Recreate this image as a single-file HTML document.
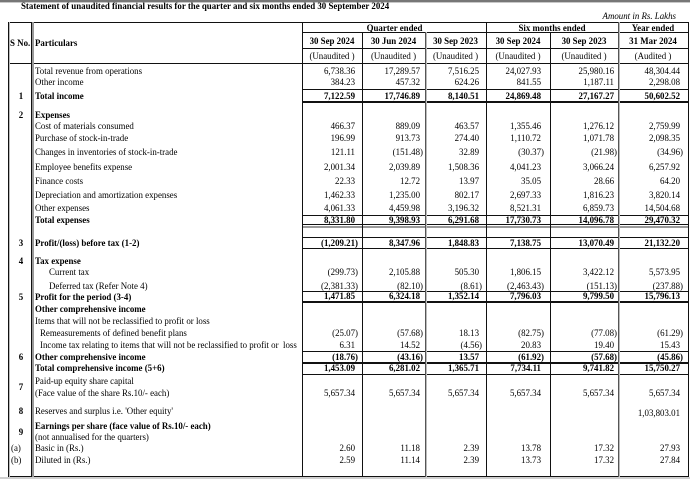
<!DOCTYPE html>
<html><head><meta charset="utf-8"><style>
body{margin:0;background:#fff}
#c{position:relative;width:690px;height:479px;overflow:hidden;background:#fff;font-family:"Liberation Serif","Times New Roman",serif;font-size:8.9px;line-height:11px;color:#000}
.t{position:absolute;white-space:nowrap}
.b{font-weight:bold}
.i{font-style:italic}
.l{position:absolute;background:#111}
.g{position:absolute;background:#9a9a9a}
.n{position:absolute;left:9px;width:24px;text-align:center;white-space:nowrap;font-weight:bold}
.h{position:absolute;text-align:center;white-space:nowrap}
</style></head><body><div id="c">
<div class="g" style="left:0;top:0;width:690px;height:2px;background:#777"></div>
<div class="g" style="left:0;top:2px;width:690px;height:1px;background:#c8c8c8"></div>
<div class="t b" style="left:21px;top:1px">Statement of unaudited financial results for the quarter and six months ended 30 September 2024</div>
<div class="t i" style="right:14px;top:11px">Amount in Rs. Lakhs</div>

<div class="l" style="left:8px;top:22px;width:681px;height:1px"></div>
<div class="l" style="left:302px;top:32px;width:387px;height:1px"></div>
<div class="l" style="left:302px;top:48px;width:387px;height:1px"></div>
<div class="l" style="left:8px;top:63px;width:681px;height:1px"></div>
<div class="l" style="left:302px;top:89px;width:387px;height:1px"></div>
<div class="l" style="left:302px;top:101px;width:387px;height:2px"></div>
<div class="l" style="left:302px;top:215px;width:387px;height:1px"></div>
<div class="l" style="left:302px;top:224px;width:387px;height:1px"></div>
<div class="g" style="left:302px;top:226px;width:387px;height:2px"></div>
<div class="l" style="left:302px;top:237px;width:387px;height:1px"></div>
<div class="l" style="left:302px;top:248px;width:387px;height:1px"></div>
<div class="l" style="left:302px;top:291px;width:387px;height:1px"></div>
<div class="l" style="left:302px;top:301px;width:387px;height:2px"></div>
<div class="l" style="left:302px;top:351px;width:387px;height:1px"></div>
<div class="l" style="left:302px;top:362px;width:387px;height:2px"></div>
<div class="l" style="left:302px;top:374px;width:387px;height:1px"></div>
<div class="l" style="left:8px;top:476px;width:681px;height:1px"></div>
<div class="g" style="left:0;top:477px;width:690px;height:2px;background:#cfcfcf"></div>

<div class="l" style="left:8px;top:22px;width:1px;height:455px"></div>
<div class="g" style="left:9px;top:22px;width:1px;height:455px;background:#bbb"></div>
<div class="l" style="left:31px;top:22px;width:1px;height:455px"></div>
<div class="g" style="left:32px;top:22px;width:2px;height:455px"></div>
<div class="l" style="left:302px;top:22px;width:1px;height:455px"></div>
<div class="l" style="left:362px;top:32px;width:1px;height:445px"></div>
<div class="l" style="left:425px;top:32px;width:1px;height:445px;background:#555"></div>
<div class="g" style="left:426px;top:32px;width:1px;height:445px;background:#bbb"></div>
<div class="l" style="left:486px;top:22px;width:1px;height:455px"></div>
<div class="l" style="left:550px;top:32px;width:1px;height:445px"></div>
<div class="l" style="left:618px;top:22px;width:1px;height:455px;background:#555"></div>
<div class="g" style="left:619px;top:22px;width:1px;height:455px;background:#bbb"></div>
<div class="l" style="left:688px;top:22px;width:1px;height:455px"></div>

<div class="t b" style="left:10px;top:37.5px">S No.</div>
<div class="t b" style="left:35px;top:37.5px">Particulars</div>
<div class="h b" style="left:302px;width:185px;top:22.5px">Quarter ended</div>
<div class="h b" style="left:486px;width:132px;top:22.5px">Six months ended</div>
<div class="h b" style="left:618px;width:70px;top:22.5px">Year ended</div>
<div class="h b" style="left:302px;width:60px;top:36px">30 Sep 2024</div>
<div class="h b" style="left:362px;width:63px;top:36px">30 Jun 2024</div>
<div class="h b" style="left:425px;width:61px;top:36px">30 Sep 2023</div>
<div class="h b" style="left:486px;width:64px;top:36px">30 Sep 2024</div>
<div class="h b" style="left:550px;width:68px;top:36px">30 Sep 2023</div>
<div class="h b" style="left:618px;width:70px;top:36px">31 Mar 2024</div>
<div class="h" style="left:302px;width:60px;top:51px">(Unaudited )</div>
<div class="h" style="left:362px;width:63px;top:51px">(Unaudited )</div>
<div class="h" style="left:425px;width:61px;top:51px">(Unaudited )</div>
<div class="h" style="left:486px;width:64px;top:51px">(Unaudited )</div>
<div class="h" style="left:550px;width:68px;top:51px">(Unaudited )</div>
<div class="h" style="left:618px;width:70px;top:51px">(Audited )</div>

<div class="t" style="left:35px;top:65.5px">Total revenue from operations</div>
<div class="t" style="left:35px;top:77px">Other income</div>
<div class="n" style="top:91px">1</div>
<div class="t b" style="left:35px;top:91px">Total income</div>
<div class="n" style="top:109.5px">2</div>
<div class="t b" style="left:35px;top:109.5px">Expenses</div>
<div class="t" style="left:35px;top:120.5px">Cost of materials consumed</div>
<div class="t" style="left:35px;top:132.5px">Purchase of stock-in-trade</div>
<div class="t" style="left:35px;top:147px">Changes in inventories of stock-in-trade</div>
<div class="t" style="left:35px;top:161.5px">Employee benefits expense</div>
<div class="t" style="left:35px;top:175.5px">Finance costs</div>
<div class="t" style="left:35px;top:189.5px">Depreciation and amortization expenses</div>
<div class="t" style="left:35px;top:203px">Other expenses</div>
<div class="t b" style="left:35px;top:214.5px">Total expenses</div>
<div class="n" style="top:237.5px">3</div>
<div class="t b" style="left:35px;top:237.5px">Profit/(loss) before tax (1-2)</div>
<div class="n" style="top:256px">4</div>
<div class="t b" style="left:35px;top:256px">Tax expense</div>
<div class="t" style="left:49px;top:267px">Current tax</div>
<div class="t" style="left:49px;top:281px">Deferred tax (Refer Note 4)</div>
<div class="n" style="top:291.5px">5</div>
<div class="t b" style="left:35px;top:291.5px">Profit for the period (3-4)</div>
<div class="t b" style="left:35px;top:304px">Other comprehensive income</div>
<div class="t" style="left:35px;top:315.5px">Items that will not be reclassified to profit or loss</div>
<div class="t" style="left:40px;top:327.5px">Remeasurements of defined benefit plans</div>
<div class="t" style="left:40px;top:340px">Income tax relating to items that will not be reclassified to profit or&nbsp; loss</div>
<div class="n" style="top:351.5px">6</div>
<div class="t b" style="left:35px;top:351.5px">Other comprehensive income</div>
<div class="t b" style="left:35px;top:363px">Total comprehensive income (5+6)</div>
<div class="n" style="top:381.5px">7</div>
<div class="t" style="left:35px;top:376px">Paid-up equity share capital</div>
<div class="t" style="left:35px;top:387.5px">(Face value of the share Rs.10/- each)</div>
<div class="n" style="top:406px">8</div>
<div class="t" style="left:35px;top:406px">Reserves and surplus i.e. 'Other equity'</div>
<div class="n" style="top:426.5px">9</div>
<div class="t b" style="left:35px;top:420.5px">Earnings per share (face value of Rs.10/- each)</div>
<div class="t" style="left:35px;top:432px">(not annualised for the quarters)</div>
<div class="t" style="left:11px;top:443px">(a)</div>
<div class="t" style="left:35px;top:443px">Basic in (Rs.)</div>
<div class="t" style="left:11px;top:455px">(b)</div>
<div class="t" style="left:35px;top:455px">Diluted in (Rs.)</div>

<!-- r1 -->
<div class="t" style="top:65.5px;right:335px">6,738.36</div>
<div class="t" style="top:65.5px;right:270px">17,289.57</div>
<div class="t" style="top:65.5px;right:211px">7,516.25</div>
<div class="t" style="top:65.5px;right:149px">24,027.93</div>
<div class="t" style="top:65.5px;right:76px">25,980.16</div>
<div class="t" style="top:65.5px;right:10px">48,304.44</div>
<!-- r2 -->
<div class="t" style="top:77px;right:335px">384.23</div>
<div class="t" style="top:77px;right:270px">457.32</div>
<div class="t" style="top:77px;right:211px">624.26</div>
<div class="t" style="top:77px;right:149px">841.55</div>
<div class="t" style="top:77px;right:76px">1,187.11</div>
<div class="t" style="top:77px;right:10px">2,298.08</div>
<!-- r3 -->
<div class="t b" style="top:91px;right:335px">7,122.59</div>
<div class="t b" style="top:91px;right:270px">17,746.89</div>
<div class="t b" style="top:91px;right:211px">8,140.51</div>
<div class="t b" style="top:91px;right:149px">24,869.48</div>
<div class="t b" style="top:91px;right:76px">27,167.27</div>
<div class="t b" style="top:91px;right:10px">50,602.52</div>
<!-- r5 -->
<div class="t" style="top:120.5px;right:335px">466.37</div>
<div class="t" style="top:120.5px;right:270px">889.09</div>
<div class="t" style="top:120.5px;right:211px">463.57</div>
<div class="t" style="top:120.5px;right:149px">1,355.46</div>
<div class="t" style="top:120.5px;right:76px">1,276.12</div>
<div class="t" style="top:120.5px;right:10px">2,759.99</div>
<!-- r6 -->
<div class="t" style="top:132.5px;right:335px">196.99</div>
<div class="t" style="top:132.5px;right:270px">913.73</div>
<div class="t" style="top:132.5px;right:211px">274.40</div>
<div class="t" style="top:132.5px;right:149px">1,110.72</div>
<div class="t" style="top:132.5px;right:76px">1,071.78</div>
<div class="t" style="top:132.5px;right:10px">2,098.35</div>
<!-- r7 -->
<div class="t" style="top:147px;right:335px">121.11</div>
<div class="t" style="top:147px;right:267px">(151.48)</div>
<div class="t" style="top:147px;right:211px">32.89</div>
<div class="t" style="top:147px;right:146px">(30.37)</div>
<div class="t" style="top:147px;right:73px">(21.98)</div>
<div class="t" style="top:147px;right:7px">(34.96)</div>
<!-- r8 -->
<div class="t" style="top:161.5px;right:335px">2,001.34</div>
<div class="t" style="top:161.5px;right:270px">2,039.89</div>
<div class="t" style="top:161.5px;right:211px">1,508.36</div>
<div class="t" style="top:161.5px;right:149px">4,041.23</div>
<div class="t" style="top:161.5px;right:76px">3,066.24</div>
<div class="t" style="top:161.5px;right:10px">6,257.92</div>
<!-- r9 -->
<div class="t" style="top:175.5px;right:335px">22.33</div>
<div class="t" style="top:175.5px;right:270px">12.72</div>
<div class="t" style="top:175.5px;right:211px">13.97</div>
<div class="t" style="top:175.5px;right:149px">35.05</div>
<div class="t" style="top:175.5px;right:76px">28.66</div>
<div class="t" style="top:175.5px;right:10px">64.20</div>
<!-- r10 -->
<div class="t" style="top:189.5px;right:335px">1,462.33</div>
<div class="t" style="top:189.5px;right:270px">1,235.00</div>
<div class="t" style="top:189.5px;right:211px">802.17</div>
<div class="t" style="top:189.5px;right:149px">2,697.33</div>
<div class="t" style="top:189.5px;right:76px">1,816.23</div>
<div class="t" style="top:189.5px;right:10px">3,820.14</div>
<!-- r11 -->
<div class="t" style="top:203px;right:335px">4,061.33</div>
<div class="t" style="top:203px;right:270px">4,459.98</div>
<div class="t" style="top:203px;right:211px">3,196.32</div>
<div class="t" style="top:203px;right:149px">8,521.31</div>
<div class="t" style="top:203px;right:76px">6,859.73</div>
<div class="t" style="top:203px;right:10px">14,504.68</div>
<!-- r12 -->
<div class="t b" style="top:214.5px;right:335px">8,331.80</div>
<div class="t b" style="top:214.5px;right:270px">9,398.93</div>
<div class="t b" style="top:214.5px;right:211px">6,291.68</div>
<div class="t b" style="top:214.5px;right:149px">17,730.73</div>
<div class="t b" style="top:214.5px;right:76px">14,096.78</div>
<div class="t b" style="top:214.5px;right:10px">29,470.32</div>
<!-- r13 -->
<div class="t b" style="top:237.5px;right:332px">(1,209.21)</div>
<div class="t b" style="top:237.5px;right:270px">8,347.96</div>
<div class="t b" style="top:237.5px;right:211px">1,848.83</div>
<div class="t b" style="top:237.5px;right:149px">7,138.75</div>
<div class="t b" style="top:237.5px;right:76px">13,070.49</div>
<div class="t b" style="top:237.5px;right:10px">21,132.20</div>
<!-- r15 -->
<div class="t" style="top:267px;right:332px">(299.73)</div>
<div class="t" style="top:267px;right:270px">2,105.88</div>
<div class="t" style="top:267px;right:211px">505.30</div>
<div class="t" style="top:267px;right:149px">1,806.15</div>
<div class="t" style="top:267px;right:76px">3,422.12</div>
<div class="t" style="top:267px;right:10px">5,573.95</div>
<!-- r16 -->
<div class="t" style="top:281px;right:332px">(2,381.33)</div>
<div class="t" style="top:281px;right:267px">(82.10)</div>
<div class="t" style="top:281px;right:208px">(8.61)</div>
<div class="t" style="top:281px;right:146px">(2,463.43)</div>
<div class="t" style="top:281px;right:73px">(151.13)</div>
<div class="t" style="top:281px;right:7px">(237.88)</div>
<!-- r17 -->
<div class="t b" style="top:291px;right:335px">1,471.85</div>
<div class="t b" style="top:291px;right:270px">6,324.18</div>
<div class="t b" style="top:291px;right:211px">1,352.14</div>
<div class="t b" style="top:291px;right:149px">7,796.03</div>
<div class="t b" style="top:291px;right:76px">9,799.50</div>
<div class="t b" style="top:291px;right:10px">15,796.13</div>
<!-- r20 -->
<div class="t" style="top:327.5px;right:332px">(25.07)</div>
<div class="t" style="top:327.5px;right:267px">(57.68)</div>
<div class="t" style="top:327.5px;right:211px">18.13</div>
<div class="t" style="top:327.5px;right:146px">(82.75)</div>
<div class="t" style="top:327.5px;right:73px">(77.08)</div>
<div class="t" style="top:327.5px;right:7px">(61.29)</div>
<!-- r21 -->
<div class="t" style="top:340px;right:335px">6.31</div>
<div class="t" style="top:340px;right:270px">14.52</div>
<div class="t" style="top:340px;right:208px">(4.56)</div>
<div class="t" style="top:340px;right:149px">20.83</div>
<div class="t" style="top:340px;right:76px">19.40</div>
<div class="t" style="top:340px;right:10px">15.43</div>
<!-- r22 -->
<div class="t b" style="top:351.5px;right:332px">(18.76)</div>
<div class="t b" style="top:351.5px;right:267px">(43.16)</div>
<div class="t b" style="top:351.5px;right:211px">13.57</div>
<div class="t b" style="top:351.5px;right:146px">(61.92)</div>
<div class="t b" style="top:351.5px;right:73px">(57.68)</div>
<div class="t b" style="top:351.5px;right:7px">(45.86)</div>
<!-- r23 -->
<div class="t b" style="top:363px;right:335px">1,453.09</div>
<div class="t b" style="top:363px;right:270px">6,281.02</div>
<div class="t b" style="top:363px;right:211px">1,365.71</div>
<div class="t b" style="top:363px;right:149px">7,734.11</div>
<div class="t b" style="top:363px;right:76px">9,741.82</div>
<div class="t b" style="top:363px;right:10px">15,750.27</div>
<!-- r25 -->
<div class="t" style="top:387.5px;right:335px">5,657.34</div>
<div class="t" style="top:387.5px;right:270px">5,657.34</div>
<div class="t" style="top:387.5px;right:211px">5,657.34</div>
<div class="t" style="top:387.5px;right:149px">5,657.34</div>
<div class="t" style="top:387.5px;right:76px">5,657.34</div>
<div class="t" style="top:387.5px;right:10px">5,657.34</div>
<!-- r26 -->
<div class="t" style="top:407.5px;right:10px">1,03,803.01</div>
<!-- r29 -->
<div class="t" style="top:443px;right:335px">2.60</div>
<div class="t" style="top:443px;right:270px">11.18</div>
<div class="t" style="top:443px;right:211px">2.39</div>
<div class="t" style="top:443px;right:149px">13.78</div>
<div class="t" style="top:443px;right:76px">17.32</div>
<div class="t" style="top:443px;right:10px">27.93</div>
<!-- r30 -->
<div class="t" style="top:455px;right:335px">2.59</div>
<div class="t" style="top:455px;right:270px">11.14</div>
<div class="t" style="top:455px;right:211px">2.39</div>
<div class="t" style="top:455px;right:149px">13.73</div>
<div class="t" style="top:455px;right:76px">17.32</div>
<div class="t" style="top:455px;right:10px">27.84</div>
</div></body></html>
